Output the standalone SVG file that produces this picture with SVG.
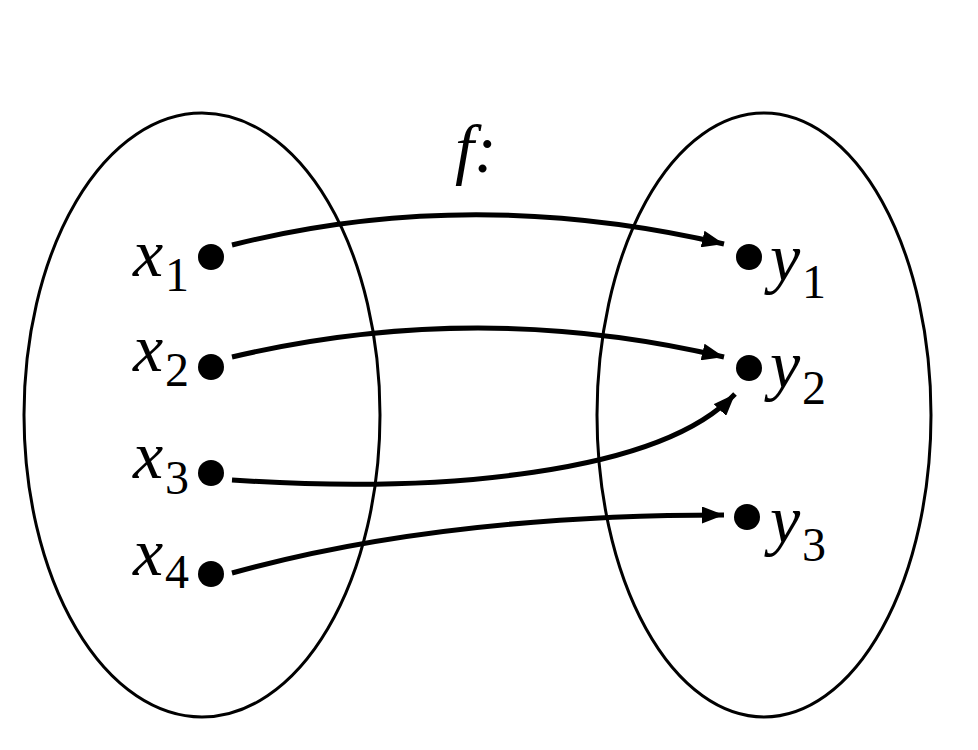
<svg xmlns="http://www.w3.org/2000/svg" width="978" height="750" viewBox="0 0 978 750">
<defs>
<style>
.set{fill:none;stroke:#000;stroke-width:3}
.dot{fill:#000}
.arr{fill:none;stroke:#000;stroke-width:5;marker-end:url(#ah)}
.v{font-style:italic;font-size:68px;fill:#000}
.s{font-size:48px;fill:#000}
</style>
<marker id="ah" viewBox="0 0 22 17" refX="22" refY="8.5" markerWidth="22" markerHeight="17" markerUnits="userSpaceOnUse" orient="auto">
<path d="M0,0 L22,8.5 L0,17 Z" fill="#000"/>
</marker>
</defs>
<rect width="978" height="750" fill="#fff"/>
<g id="domain"><ellipse class="set" cx="202" cy="415" rx="178" ry="302"/></g>
<g id="codomain"><ellipse class="set" cx="764" cy="415" rx="167" ry="302"/></g>
<g id="labels" font-family="Liberation Serif, Times New Roman, serif">
<g id="label-f"><text class="v" x="455" y="172">f:</text></g>
<g id="x1"><circle class="dot" cx="211" cy="257" r="13"/><text class="v" x="133" y="276">x</text><text class="s" x="165" y="291">1</text></g>
<g id="x2"><circle class="dot" cx="211" cy="367" r="13"/><text class="v" x="133" y="371">x</text><text class="s" x="165" y="386">2</text></g>
<g id="x3"><circle class="dot" cx="211" cy="473" r="13"/><text class="v" x="133" y="478">x</text><text class="s" x="165" y="494">3</text></g>
<g id="x4"><circle class="dot" cx="211" cy="574" r="13"/><text class="v" x="133" y="575">x</text><text class="s" x="165" y="588">4</text></g>
<g id="y1"><circle class="dot" cx="749" cy="257" r="13"/><text class="v" x="770" y="281">y</text><text class="s" x="802" y="298">1</text></g>
<g id="y2"><circle class="dot" cx="749" cy="368" r="13"/><text class="v" x="770" y="388">y</text><text class="s" x="802" y="404">2</text></g>
<g id="y3"><circle class="dot" cx="747" cy="517" r="13"/><text class="v" x="770" y="543">y</text><text class="s" x="802" y="561">3</text></g>
</g>
<g id="connectors">
<path class="arr" d="M232,245 Q470,185 724,244"/>
<path class="arr" d="M232,357 Q478,299 724,357"/>
<path class="arr" d="M232,480 C440,494 660,474 735,394"/>
<path class="arr" d="M232,573 Q440,515 724,515"/>
</g>
</svg>
